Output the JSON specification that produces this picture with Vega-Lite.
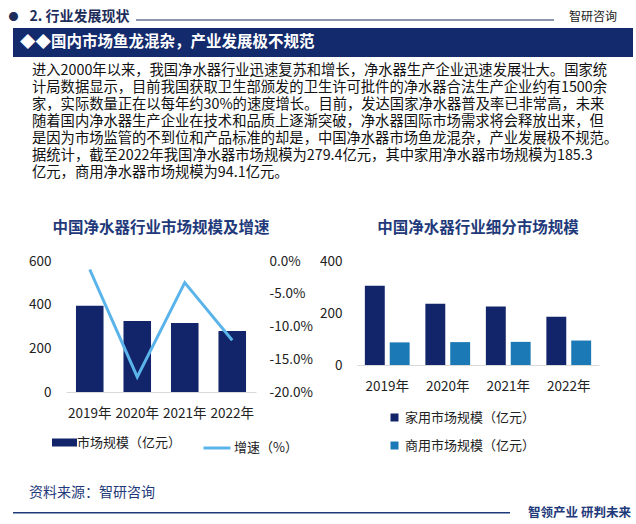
{
  "$schema": "https://vega.github.io/schema/vega-lite/v6.json",
  "background": "white",
  "padding": {"left": 8, "right": 8, "top": 9, "bottom": 0},
  "config": {
    "font": "Noto Sans CJK SC",
    "view": {"stroke": null},
    "axis": {"labelFontSize": 13.5, "labelColor": "#222222", "ticks": false, "grid": false, "domain": false, "title": null, "labelFont": "Noto Sans CJK SC"},
    "axisX": {"domain": true, "domainColor": "#d9d9d9", "labelAngle": 0, "labelPadding": 14},
    "legend": {"labelFontSize": 13, "labelColor": "#222222", "labelFont": "Noto Sans CJK SC", "title": null},
    "title": {"font": "Noto Sans CJK SC"}
  },
  "spacing": 31,
  "vconcat": [
    {
      "spacing": 7,
      "vconcat": [
        {
          "spacing": 4,
          "vconcat": [
            {
              "spacing": 6,
              "center": true,
              "hconcat": [
                {
                  "spacing": 10,
                  "center": true,
                  "hconcat": [
                    {"width": 1, "height": 1, "data": {"values": [{"label": "●"}]}, "mark": {"type": "text", "fontSize": 10, "color": "#1d2d5a"}, "encoding": {"text": {"field": "label", "type": "nominal"}}},
                    {"width": 1, "height": 1, "data": {"values": [{"label": "2. 行业发展现状"}]}, "mark": {"type": "text", "fontSize": 14, "fontWeight": "bold", "color": "#1d2d5a"}, "encoding": {"text": {"field": "label", "type": "nominal"}}}
                  ]
                },
                {"width": 418, "height": 1, "data": {"values": [{"part": "line"}]}, "mark": {"type": "rect", "color": "#1d2d5a"}, "encoding": {}},
                {"width": 66, "height": 1, "data": {"values": [{"brand": "智研咨询"}]}, "mark": {"type": "text", "fontSize": 12, "color": "#222222"}, "encoding": {"text": {"field": "brand", "type": "nominal"}}}
              ]
            },
            {
              "width": 620,
              "height": 29,
              "data": {"values": [{"heading": "国内市场鱼龙混杂，产业发展极不规范"}]},
              "mark": {"type": "rect", "color": "#132a6c"},
              "encoding": {},
              "title": {"text": "◆◆国内市场鱼龙混杂，产业发展极不规范", "orient": "top", "anchor": "start", "frame": "group", "dx": 7, "offset": -22, "color": "white", "fontSize": 15.5, "fontWeight": "bold"}
            }
          ]
        },
        {
          "spacing": 6,
          "resolve": {"scale": {"color": "independent", "fill": "independent", "stroke": "independent"}},
          "title": {
            "text": [
              "进入2000年以来，我国净水器行业迅速复苏和增长，净水器生产企业迅速发展壮大。国家统",
              "计局数据显示，目前我国获取卫生部颁发的卫生许可批件的净水器合法生产企业约有1500余",
              "家，实际数量正在以每年约30%的速度增长。目前，发达国家净水器普及率已非常高，未来",
              "随着国内净水器生产企业在技术和品质上逐渐突破，净水器国际市场需求将会释放出来，但",
              "是因为市场监管的不到位和产品标准的却是，中国净水器市场鱼龙混杂，产业发展极不规范。",
              "据统计，截至2022年我国净水器市场规模为279.4亿元，其中家用净水器市场规模为185.3",
              "亿元，商用净水器市场规模为94.1亿元。"
            ],
            "anchor": "start", "frame": "bounds", "fontSize": 14.3, "fontWeight": "normal", "color": "#111111", "lineHeight": 17, "offset": 40, "dx": 19
          },
          "hconcat": [
            {"width": 9, "height": 1, "data": {"values": [{"part": "indent"}]}, "mark": {"type": "rect", "opacity": 0}, "encoding": {}},
            {
              "width": 190,
              "height": 131,
              "title": {"text": "中国净水器行业市场规模及增速", "fontSize": 15.5, "fontWeight": "bold", "color": "#1f3a7a", "offset": 18},
              "data": {"values": [
                {"year": "2019年", "size": 395, "growth": -0.013},
                {"year": "2020年", "size": 325, "growth": -0.177},
                {"year": "2021年", "size": 316, "growth": -0.033},
                {"year": "2022年", "size": 279.4, "growth": -0.121}
              ]},
              "encoding": {
                "x": {"field": "year", "type": "ordinal", "scale": {"paddingInner": 0.42, "paddingOuter": 0.21}}
              },
              "layer": [
                {
                  "mark": {"type": "bar"},
                  "encoding": {
                    "y": {"field": "size", "type": "quantitative", "scale": {"domain": [0, 600]}, "axis": {"values": [0, 200, 400, 600], "labelPadding": 15}},
                    "fill": {"datum": "市场规模（亿元）", "scale": {"range": ["#12246a"]}, "legend": {"orient": "none", "legendX": -11, "legendY": 172, "symbolType": "M-1.5,-0.48H1.5V0.48H-1.5Z", "symbolSize": 278, "labelOffset": 3}}
                  }
                },
                {
                  "mark": {"type": "line", "strokeWidth": 3},
                  "encoding": {
                    "y": {"field": "growth", "type": "quantitative", "scale": {"domain": [-0.2, 0]}, "axis": {"orient": "right", "values": [0, -0.05, -0.1, -0.15, -0.2], "labelPadding": 13, "labelExpr": "replace(format(datum.value, '.1%'), '−', '-')"}},
                    "stroke": {"datum": "增速（%）", "scale": {"range": ["#5ab4ea"]}, "legend": {"orient": "none", "legendX": 136, "legendY": 172, "symbolType": "stroke", "symbolSize": 729, "symbolStrokeWidth": 3, "labelOffset": 2}}
                  }
                }
              ],
              "resolve": {"scale": {"y": "independent"}}
            },
            {
              "width": 242,
              "height": 104,
              "title": {"text": "中国净水器行业细分市场规模", "fontSize": 15.5, "fontWeight": "bold", "color": "#1f3a7a", "offset": 18},
              "data": {"values": [
                {"year": "2019年", "type": "家用市场规模（亿元）", "value": 305},
                {"year": "2019年", "type": "商用市场规模（亿元）", "value": 87},
                {"year": "2020年", "type": "家用市场规模（亿元）", "value": 236},
                {"year": "2020年", "type": "商用市场规模（亿元）", "value": 88},
                {"year": "2021年", "type": "家用市场规模（亿元）", "value": 225},
                {"year": "2021年", "type": "商用市场规模（亿元）", "value": 89},
                {"year": "2022年", "type": "家用市场规模（亿元）", "value": 185.3},
                {"year": "2022年", "type": "商用市场规模（亿元）", "value": 94.1}
              ]},
              "mark": {"type": "bar"},
              "encoding": {
                "x": {"field": "year", "type": "ordinal", "scale": {"paddingInner": 0.26, "paddingOuter": 0.13}},
                "xOffset": {"field": "type", "sort": ["家用市场规模（亿元）", "商用市场规模（亿元）"], "scale": {"paddingInner": 0.2}},
                "y": {"field": "value", "type": "quantitative", "scale": {"domain": [0, 400]}, "axis": {"values": [0, 200, 400], "labelPadding": 15}},
                "color": {"field": "type", "type": "nominal", "scale": {"domain": ["家用市场规模（亿元）", "商用市场规模（亿元）"], "range": ["#12246a", "#1b7ab6"]}, "legend": {"orient": "none", "legendX": 31, "legendY": 150, "direction": "vertical", "symbolType": "square", "symbolSize": 64, "rowPadding": 14, "labelOffset": 4}}
              }
            }
          ]
        }
      ]
    },
    {
      "spacing": 18,
      "hconcat": [
        {"width": 497, "height": 1.5, "data": {"values": [{"part": "footer"}]}, "mark": {"type": "rect", "color": "#1f3a7a"}, "encoding": {},
         "title": {"text": "资料来源：智研咨询", "anchor": "start", "frame": "group", "fontSize": 14, "fontWeight": "normal", "color": "#1f3a7a", "offset": 12, "dx": 16}},
        {"width": 1, "height": 1, "data": {"values": [{"slogan": "智领产业 研判未来"}]}, "mark": {"type": "text", "fontSize": 12.5, "fontWeight": "bold", "color": "#1f3a7a"}, "encoding": {"text": {"field": "slogan", "type": "nominal"}}}
      ]
    }
  ]
}
